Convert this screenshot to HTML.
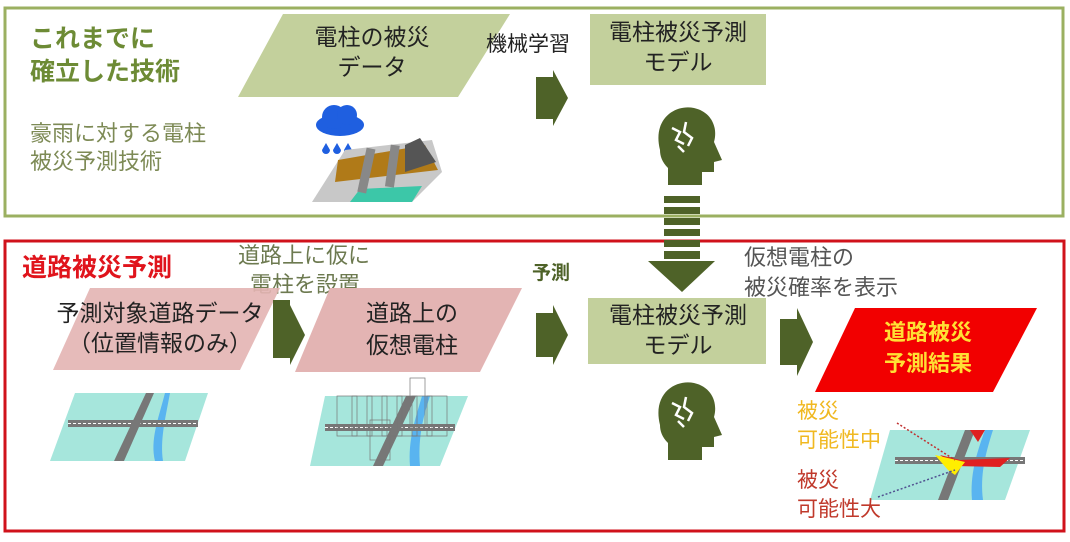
<!DOCTYPE html>
<html><head><meta charset="utf-8"><style>
body{margin:0;background:#fff}
svg text{font-family:"Liberation Sans","Noto Sans CJK JP",sans-serif}
</style></head><body>
<svg width="1070" height="537" viewBox="0 0 1070 537" xmlns="http://www.w3.org/2000/svg">
<rect x="5" y="8" width="1058" height="208" fill="#fff" stroke="#9bb061" stroke-width="3"/>
<rect x="5" y="241" width="1059" height="290" fill="#fff" stroke="#d0121b" stroke-width="3"/>

<text x="30" y="47" font-size="25" font-weight="bold" fill="#6d8b35">これまでに</text>
<text x="30" y="80" font-size="25" font-weight="bold" fill="#6d8b35">確立した技術</text>
<text x="30" y="141" font-size="22" fill="#7d8a55">豪雨に対する電柱</text>
<text x="30" y="169" font-size="22" fill="#7d8a55">被災予測技術</text>

<polygon points="283,14 510,14 458,97 238,97" fill="#c3d09c"/>
<text x="372" y="45" font-size="23" text-anchor="middle" fill="#222">電柱の被災</text>
<text x="372" y="75" font-size="23" text-anchor="middle" fill="#222">データ</text>
<text x="486" y="51" font-size="21" fill="#222">機械学習</text>

<!-- rain illustration -->
<g>
<ellipse cx="340" cy="125" rx="24" ry="11" fill="#1f5fe0"/><circle cx="334" cy="117" r="12" fill="#1f5fe0"/><circle cx="347" cy="115" r="10" fill="#1f5fe0"/>
<path d="M326,143 l-4,7 a4,4 0 0 0 8,0z M337,143 l-4,7 a4,4 0 0 0 8,0z M348,143 l-4,7 a4,4 0 0 0 8,0z" fill="#1f5fe0"/>
<polygon points="345,150 432,140 442,172 412,202 312,202" fill="#c8c8c8"/>
<polygon points="338,160 425,145 438,170 335,182" fill="#b07a18"/>
<polygon points="350,202 412,202 422,186 360,189" fill="#3cc7a8"/>
<rect x="362" y="148" width="9" height="45" fill="#888" transform="rotate(12 366 170)"/>
<rect x="388" y="145" width="9" height="42" fill="#888" transform="rotate(8 392 165)"/>
<polygon points="405,145 420,138 436,162 405,172" fill="#555"/>
</g>

<polygon points="536,77 553,77 553,70 568,98 553,126 553,119 536,119" fill="#4e6228"/>
<rect x="590" y="14" width="176" height="71" fill="#c3d09c"/>
<text x="678" y="40" font-size="23" text-anchor="middle" fill="#222">電柱被災予測</text>
<text x="678" y="70" font-size="23" text-anchor="middle" fill="#222">モデル</text>

<g id="head" fill="#4e6228">
<path d="M660,150 C652,118 676,104 694,108 C712,112 718,128 714,142 L722,160 L714,162 L714,172 L702,172 L702,185 L668,185 L668,168 C662,162 660,156 660,150 Z"/>
<path d="M672,128 l8,4 l-4,8 l8,4 M686,122 l-2,10 l8,6 l-4,8 M678,146 l6,6" stroke="#fff" stroke-width="2.5" fill="none"/>
</g>

<g fill="#4e6228">
<rect x="664" y="196" width="36" height="7"/>
<rect x="664" y="207" width="36" height="7"/>
<rect x="664" y="218" width="36" height="7"/>
<rect x="664" y="229" width="36" height="7"/>
<rect x="664" y="240" width="36" height="7"/>
<rect x="664" y="251" width="36" height="8"/>
<polygon points="648,261 715,261 682,292"/>
</g>

<text x="22" y="276" font-size="25" font-weight="bold" fill="#e0141c">道路被災予測</text>
<text x="238" y="263" font-size="22" fill="#6d7a50">道路上に仮に</text>
<text x="250" y="292" font-size="22" fill="#6d7a50">電柱を設置</text>
<text x="532" y="279" font-size="19" font-weight="bold" fill="#4e6228">予測</text>
<text x="744" y="265" font-size="22" fill="#555">仮想電柱の</text>
<text x="744" y="295" font-size="22" fill="#555">被災確率を表示</text>

<polygon points="90,288 280,288 240,370 53,370" fill="#e3b4b3" fill-opacity="0.9"/>
<text x="160" y="321" font-size="23" text-anchor="middle" fill="#222">予測対象道路データ</text>
<text x="160" y="351" font-size="23" text-anchor="middle" fill="#222">（位置情報のみ）</text>
<polygon points="273,300 290,300 290,305 305,335 290,365 290,358 273,358" fill="#4e6228"/>
<polygon points="330,288 522,288 480,372 295,372" fill="#e3b4b3"/>
<text x="412" y="321" font-size="23" text-anchor="middle" fill="#222">道路上の</text>
<text x="412" y="353" font-size="23" text-anchor="middle" fill="#222">仮想電柱</text>
<polygon points="536,313 553,313 553,305 568,335 553,365 553,357 536,357" fill="#4e6228"/>

<rect x="588" y="298" width="178" height="66" fill="#c3d09c"/>
<text x="678" y="323" font-size="23" text-anchor="middle" fill="#222">電柱被災予測</text>
<text x="678" y="353" font-size="23" text-anchor="middle" fill="#222">モデル</text>
<use href="#head" transform="translate(0,275)"/>

<polygon points="780,319 797,319 797,308 813,342 797,376 797,365 780,365" fill="#4e6228"/>
<polygon points="855,308 1037,308 993,392 815,392" fill="#f20000"/>
<text x="928" y="340" font-size="22" font-weight="bold" text-anchor="middle" fill="#ffe034">道路被災</text>
<text x="928" y="371" font-size="22" font-weight="bold" text-anchor="middle" fill="#ffe034">予測結果</text>

<g>
<polygon points="75,393 208,393 185,461 50,461" fill="#a6e6dc"/>
<path d="M170,393 C165,420 160,440 163,461 L155,461 C150,440 158,420 165,393Z" fill="#59b4f0"/>
<rect x="68" y="420" width="130" height="7" fill="#777"/>
<line x1="68" y1="423.5" x2="198" y2="423.5" stroke="#fff" stroke-dasharray="3,2"/>
<polygon points="146,393 154,393 124,461 114,461" fill="#777"/>
</g>
<g>
<polygon points="325,396 468,396 440,466 310,466" fill="#a6e6dc"/>
<path d="M430,396 C422,420 418,440 420,466 L410,466 C408,440 415,420 422,396Z" fill="#59b4f0"/>
<rect x="325" y="424" width="130" height="7" fill="#777"/>
<line x1="325" y1="427.5" x2="455" y2="427.5" stroke="#fff" stroke-dasharray="3,2"/>
<polygon points="406,396 416,396 383,466 373,466" fill="#777"/>
<g fill="none" stroke="#777" stroke-width="0.7">
<rect x="337" y="396" width="20" height="40"/><rect x="352" y="396" width="20" height="40"/><rect x="367" y="396" width="20" height="40"/><rect x="382" y="396" width="20" height="40"/><rect x="397" y="396" width="20" height="40"/><rect x="412" y="396" width="20" height="40"/><rect x="427" y="396" width="20" height="40"/><rect x="410" y="378" width="15" height="50"/><rect x="370" y="420" width="20" height="40"/>
</g>
</g>
<g>
<polygon points="890,430 1030,430 1005,500 870,500" fill="#a6e6dc"/>
<path d="M993,430 C985,455 980,475 983,500 L972,500 C970,475 976,455 985,430Z" fill="#59b4f0"/>
<rect x="895" y="457" width="130" height="7" fill="#777"/>
<line x1="895" y1="460.5" x2="1025" y2="460.5" stroke="#fff" stroke-dasharray="3,2"/>
<polygon points="965,430 975,430 948,500 938,500" fill="#777"/>
<polygon points="940,455 960,460 1010,458 1000,467 955,466" fill="#e02020"/>
<polygon points="935,455 965,462 955,475 948,470" fill="#ffee00"/>
<polygon points="970,430 985,430 978,442" fill="#e02020"/>
<line x1="897" y1="423" x2="955" y2="460" stroke="#c03030" stroke-width="1.5" stroke-dasharray="2,2"/>
<line x1="878" y1="497" x2="955" y2="470" stroke="#505090" stroke-width="1.5" stroke-dasharray="2,2"/>
</g>

<text x="797" y="418" font-size="21" fill="#f0b820">被災</text>
<text x="797" y="447" font-size="21" fill="#f0b820">可能性中</text>
<text x="797" y="487" font-size="21" fill="#c0392b">被災</text>
<text x="797" y="516" font-size="21" fill="#c0392b">可能性大</text>
</svg>
</body></html>
